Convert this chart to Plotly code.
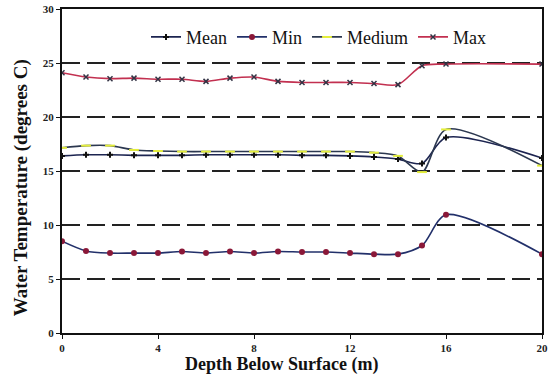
import plotly.graph_objects as go

# Depth below surface (m) and water temperature (degrees C) per statistic
depth = [0, 1, 2, 3, 4, 5, 6, 7, 8, 9, 10, 11, 12, 13, 14, 15, 16, 20]
mean_t = [16.4, 16.5, 16.5, 16.45, 16.45, 16.45, 16.5, 16.5, 16.5, 16.5, 16.45, 16.45, 16.4, 16.3, 16.1, 15.7, 18.1, 16.2]
min_t = [8.5, 7.6, 7.4, 7.4, 7.4, 7.55, 7.4, 7.55, 7.4, 7.55, 7.5, 7.5, 7.4, 7.3, 7.3, 8.1, 10.95, 7.3]
medium_t = [17.15, 17.35, 17.35, 16.95, 16.85, 16.8, 16.8, 16.8, 16.8, 16.8, 16.8, 16.8, 16.8, 16.7, 16.4, 14.9, 18.85, 15.5]
max_t = [24.1, 23.7, 23.55, 23.6, 23.5, 23.5, 23.3, 23.6, 23.7, 23.3, 23.2, 23.2, 23.2, 23.1, 23.0, 24.75, 24.9, 24.9]

x_ticks = [0, 4, 8, 12, 16, 20]
y_ticks = [0, 5, 10, 15, 20, 25, 30]

SERIF = "'Liberation Serif', 'Times New Roman', serif"

fig = go.Figure()
fig.add_trace(go.Scatter(
    x=depth, y=mean_t, name="Mean", mode="lines+markers",
    line=dict(color="#1c2450", width=1.6, shape="spline", smoothing=0.8),
    marker=dict(symbol="cross", size=5, color="#111111"),
))
fig.add_trace(go.Scatter(
    x=depth, y=min_t, name="Min", mode="lines+markers",
    line=dict(color="#22306a", width=1.6, shape="spline", smoothing=0.8),
    marker=dict(symbol="circle", size=6, color="#8a1838"),
))
fig.add_trace(go.Scatter(
    x=depth, y=medium_t, name="Medium", mode="lines+markers",
    line=dict(color="#2c3850", width=1.6, shape="spline", smoothing=0.8),
    marker=dict(symbol="line-ew-open", size=7, color="#e4ee3c", line=dict(width=2, color="#e4ee3c")),
))
fig.add_trace(go.Scatter(
    x=depth, y=max_t, name="Max", mode="lines+markers",
    line=dict(color="#c23050", width=1.6, shape="spline", smoothing=0.8),
    marker=dict(symbol="x-thin-open", size=5, color="#333344", line=dict(width=1.5, color="#333344")),
))

fig.update_layout(
    width=550, height=378,
    margin=dict(l=62, r=2, t=9, b=45),
    paper_bgcolor="white", plot_bgcolor="white",
    font=dict(family=SERIF, color="#111111"),
    showlegend=True,
    legend=dict(
        orientation="h", x=0.175, y=0.97, xanchor="left", yanchor="top",
        font=dict(family=SERIF, size=18, color="#111111"),
        bgcolor="rgba(255,255,255,0)", itemwidth=30, tracegroupgap=0,
    ),
    xaxis=dict(
        range=[0, 20], tickvals=x_ticks, ticktext=[f"<b>{v}</b>" for v in x_ticks],
        showline=True, linecolor="#111111", linewidth=2, mirror=True,
        ticks="outside", ticklen=4, tickcolor="#111111",
        showgrid=False, zeroline=False, ticklabeloverflow="allow",
        tickfont=dict(family=SERIF, size=11, color="#222222"),
    ),
    yaxis=dict(
        range=[0, 30], tickvals=y_ticks, ticktext=[f"<b>{v}</b>" for v in y_ticks],
        showline=True, linecolor="#111111", linewidth=2, mirror=True,
        ticks="outside", ticklen=4, tickcolor="#111111",
        showgrid=True, gridcolor="#222222", gridwidth=1.5, griddash="18px,7px",
        zeroline=False,
        tickfont=dict(family=SERIF, size=11, color="#222222"),
    ),
    annotations=[
        dict(text="<b>Depth Below Surface (m)</b>", xref="paper", yref="paper",
             x=(284 - 62) / 486, y=-0.136, xanchor="center", yanchor="bottom",
             showarrow=False, font=dict(family=SERIF, size=18, color="#111111")),
        dict(text="<b>Water Temperature (degrees C)</b>", xref="paper", yref="paper",
             x=-0.085, y=(333 - 188) / 324, xanchor="center", yanchor="middle",
             textangle=-90, showarrow=False,
             font=dict(family=SERIF, size=19, color="#111111")),
    ],
)

fig.write_html("out.html")
